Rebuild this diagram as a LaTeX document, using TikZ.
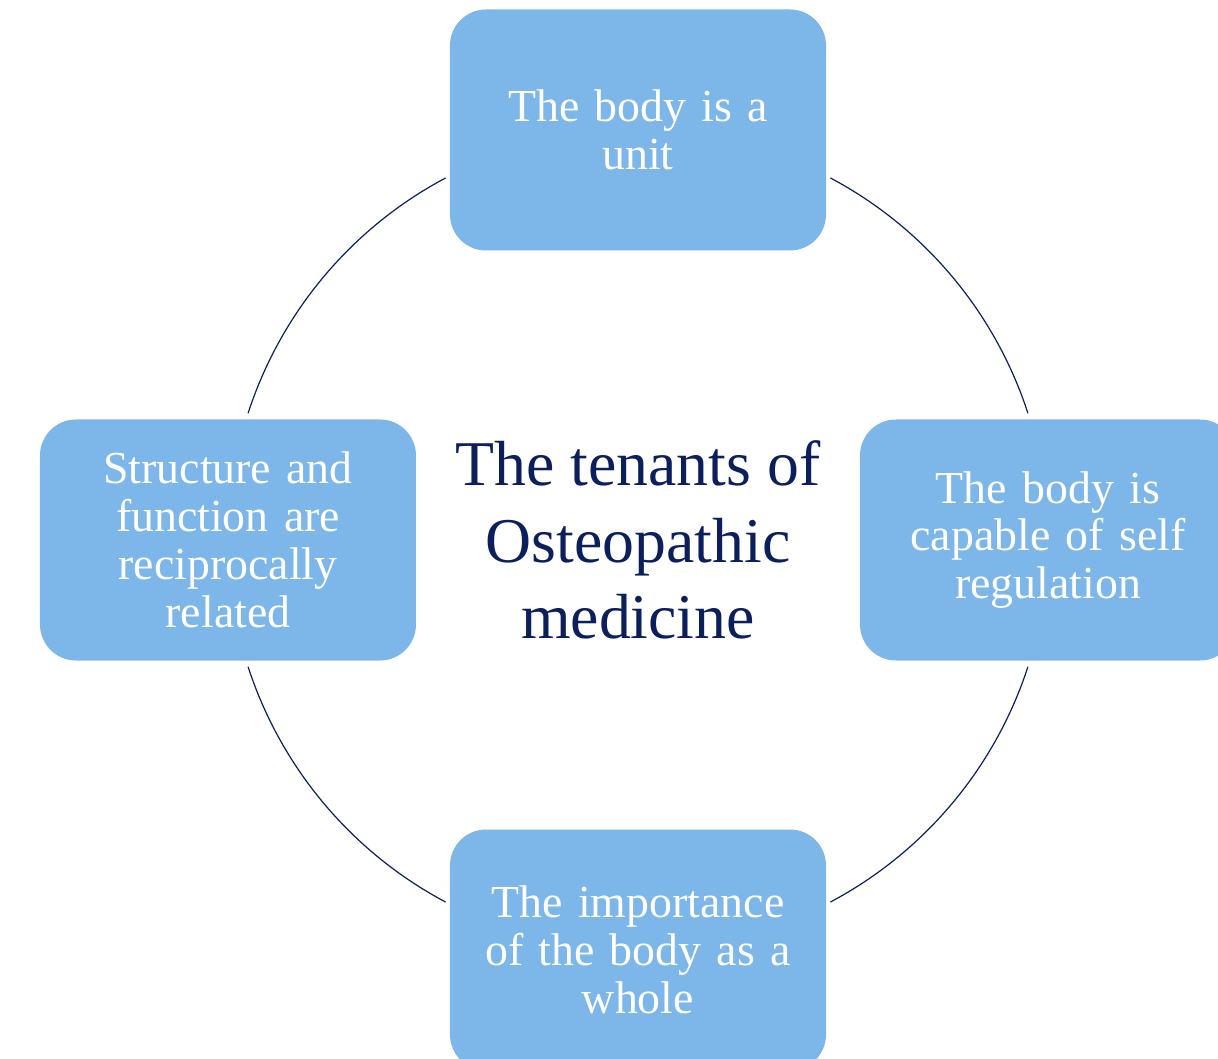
\documentclass[tikz,border=0pt]{standalone}
\usepackage{fontspec}
\setmainfont{Liberation Serif}
\usepackage{tikz}
\usetikzlibrary{calc}

\definecolor{tenetblue}{HTML}{7DB6E8}
\definecolor{tenetnavy}{HTML}{0B1F5C}

\begin{document}
\begin{tikzpicture}[
  x=1bp, y=1bp,
  box/.style={fill=tenetblue, rounded corners=36bp, align=center, text=white,
    minimum width=376bp, minimum height=241bp, text width=340bp,
    font=\fontsize{46}{48}\selectfont},
  ring/.style={draw=tenetnavy, line width=1.2bp}
]
  \useasboundingbox (-638,-519) rectangle (580,540);
  \coordinate (hub) at (0,0);
  \node[font=\fontsize{64}{77}\selectfont, text=tenetnavy, align=center] (title) at (hub) {The tenants of\\Osteopathic\\medicine};

  \node[box] (unit) at (0,410) {The body is a\\unit};
  \node[box] (selfreg) at (410,0) {The body is\\capable of self\\regulation};
  \node[box] (whole) at (0,-410) {The importance\\of the body as a\\whole};
  \node[box] (struct) at (-410,0) {Structure and\\function are\\reciprocally\\related};

  % ring between the boxes
  \foreach \s/\e in {18/62, 118/162, 198/242, 298/342}
    \draw[ring] ($(hub)+(\s:410)$) arc[start angle=\s, end angle=\e, radius=410];
\end{tikzpicture}
\end{document}
